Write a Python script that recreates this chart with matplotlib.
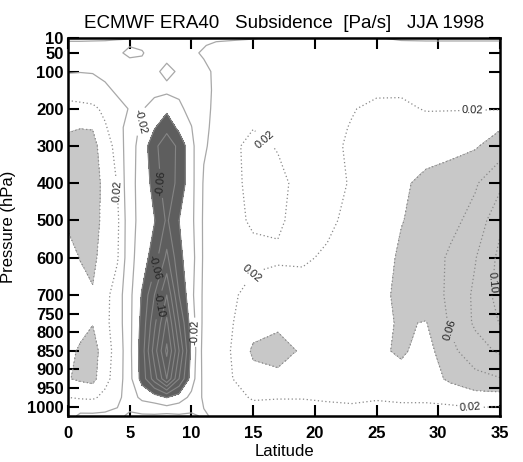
import numpy as np
import matplotlib
matplotlib.use("Agg")
import matplotlib.pyplot as plt

plt.rcParams['font.family'] = ['Liberation Sans', 'DejaVu Sans']

# Grid: latitude (deg N) and pressure levels (hPa)
lats = [0, 1, 2, 3, 4, 5, 6, 7, 8, 9, 10, 11, 12, 13, 15, 17, 19, 21, 23, 25, 27, 29, 31, 33, 35]
plevs = [10, 30, 50, 100, 150, 200, 250, 300, 400, 500, 600, 700, 775, 850, 925, 975, 1025]

# Vertical velocity, one row per pressure level, in units of 0.01 Pa/s
w_cpa = [
    # 10 hPa
    [0.4, 0.4, 0.4, 0.4, 0.4, 0.3, 0.3, 0.2, 0.2, 0.2, 0.1, -0.3, -0.4, -0.3, -0.1, 0.2, 0.3, 0.3, 0.3, 0.1, -0.3, -0.4, -0.4, -0.4, -0.4],
    # 30 hPa
    [-0.5, -0.5, -0.6, -0.7, -1.3, -1.9, -1.8, -1.3, -1.2, -1.3, -0.6, -0.1, 0.4, 0.5, 0.6, 0.6, 0.6, 0.6, 0.6, 0.6, 0.6, 0.6, 0.6, 0.6, 0.6],
    # 50 hPa
    [-0.5, -0.6, -0.8, -1.0, -1.6, -2.5, -2.1, -1.4, -1.5, -1.5, -0.3, 0.2, 0.5, 0.6, 0.7, 0.7, 0.7, 0.7, 0.7, 0.8, 0.8, 0.8, 0.8, 0.8, 0.8],
    # 100 hPa
    [-0.1, -0.05, -0.1, -0.5, -0.7, -0.6, -1.5, -1.7, -2.4, -1.8, -1.3, -0.4, 0.3, 0.6, 0.8, 0.8, 0.9, 0.9, 1.0, 1.1, 1.1, 1.1, 1.1, 1.1, 1.1],
    # 150 hPa
    [1.0, 0.9, 0.8, 0.4, -0.3, -0.8, -1.4, -1.6, -1.6, -1.7, -1.3, -0.5, 0.3, 0.7, 0.9, 1.0, 1.0, 1.1, 1.3, 1.7, 1.8, 1.5, 1.5, 1.5, 1.5],
    # 200 hPa
    [2.8, 2.6, 2.4, 1.6, 0.6, -0.1, -1.9, -2.6, -3.5, -2.3, -1.5, -0.5, 0.4, 0.8, 1.2, 1.2, 1.3, 1.4, 1.9, 2.4, 2.3, 1.9, 1.9, 1.9, 1.9],
    # 250 hPa
    [3.6, 3.9, 3.9, 2.2, 0.9, -1.0, -2.4, -3.8, -5.5, -3.4, -2.05, -0.4, 0.5, 1.3, 1.95, 1.5, 1.4, 1.5, 2.1, 2.6, 2.6, 2.6, 2.8, 3.2, 3.8],
    # 300 hPa
    [5.0, 5.2, 4.6, 3.0, 1.3, -1.3, -2.7, -5.6, -7.0, -5.6, -2.5, -0.2, 0.5, 1.6, 2.4, 1.9, 1.5, 1.5, 2.3, 2.7, 2.8, 3.0, 3.4, 3.8, 5.0],
    # 400 hPa
    [5.5, 5.8, 4.8, 3.5, 1.9, -1.5, -2.6, -4.8, -7.2, -5.4, -2.6, 0.2, 0.7, 1.5, 2.4, 2.4, 1.5, 1.6, 2.1, 2.9, 3.6, 4.6, 5.0, 5.8, 7.5],
    # 500 hPa
    [4.4, 5.0, 4.8, 3.4, 2.4, -1.4, -2.6, -3.9, -6.3, -4.0, -2.5, 0.3, 0.9, 1.5, 2.2, 2.2, 1.5, 1.7, 2.4, 3.2, 3.9, 4.8, 5.5, 6.6, 9.6],
    # 600 hPa
    [3.0, 4.1, 4.5, 3.0, 2.2, -1.4, -3.0, -5.0, -8.5, -4.5, -2.8, 0.3, 1.0, 1.4, 1.6, 1.8, 1.8, 2.2, 2.6, 2.8, 4.4, 5.0, 6.3, 7.9, 10.5],
    # 700 hPa
    [2.6, 3.0, 3.8, 2.6, 1.0, -1.5, -4.2, -8.0, -12.0, -6.0, -2.5, 0.4, 1.0, 1.6, 2.6, 2.8, 2.6, 2.8, 3.0, 3.2, 4.6, 5.2, 6.3, 8.4, 10.8],
    # 775 hPa
    [3.2, 3.5, 3.9, 2.5, 1.0, -1.5, -4.6, -9.5, -14.5, -8.0, -3.0, 0.5, 1.0, 1.7, 3.2, 3.7, 3.0, 3.0, 3.1, 3.5, 4.2, 3.9, 6.3, 8.3, 10.1],
    # 850 hPa
    [3.6, 4.2, 5.0, 2.8, 1.3, -1.5, -5.0, -11.0, -16.5, -10.0, -3.5, 0.8, 1.1, 1.8, 4.3, 4.6, 3.8, 3.2, 3.3, 3.6, 4.3, 3.2, 5.5, 7.2, 8.3],
    # 925 hPa
    [3.9, 4.3, 4.6, 2.6, 1.1, -1.4, -4.8, -9.0, -14.0, -8.0, -3.0, 0.6, 1.0, 1.7, 3.4, 3.6, 3.2, 3.0, 3.1, 3.3, 3.3, 3.0, 4.4, 5.4, 5.9],
    # 975 hPa
    [2.0, 2.2, 2.3, 1.5, 0.5, -1.0, -2.5, -3.0, -4.1, -3.0, -1.5, 0.3, 0.6, 1.2, 2.2, 2.1, 2.1, 2.3, 2.5, 2.2, 2.4, 2.4, 2.6, 3.2, 3.2],
    # 1025 hPa
    [0.8, -0.4, -0.4, -0.4, -0.4, 0.3, 0.3, 0.3, 0.6, 0.3, 0.3, -0.2, 0.3, 0.6, 1.0, 1.0, 1.0, 1.0, 1.0, 1.0, 1.0, 1.0, 1.1, 1.0, 0.8],
]

xtick_vals = [0, 5, 10, 15, 20, 25, 30, 35]
ytick_vals = [10, 50, 100, 200, 300, 400, 500, 600, 700, 750, 800, 850, 900, 950, 1000]

omega = np.array(w_cpa) / 100.0  # Pa/s
X, Y = np.meshgrid(lats, plevs)

fig = plt.figure(figsize=(5.23, 4.62), dpi=100)
ax = fig.add_axes([68 / 523, 1 - 416 / 462, 432 / 523, 378 / 462])

# shading: strong ascent dark, strong subsidence light
ax.contourf(X, Y, omega, levels=[-1.0, -0.04, 0.04, 1.0],
            colors=['#5e5e5e', 'none', '#c8c8c8'])

neg_out = ax.contour(X, Y, omega, levels=[-0.02, 0.0], colors='#a8a8a8',
                     linewidths=0.9, linestyles='solid')
neg_in = ax.contour(X, Y, omega, levels=np.arange(-0.18, -0.039, 0.02),
                    colors='#858585', linewidths=0.8, linestyles='solid')
pos = ax.contour(X, Y, omega, levels=np.arange(0.02, 0.121, 0.02),
                 colors='#888888', linewidths=0.9, linestyles=[(0, (1, 2))])

lab_kw = dict(fmt='%.2f', fontsize=8, inline=True, inline_spacing=2, colors='#222222')
ax.clabel(neg_out, manual=[(6.4, 238), (10.4, 800)], **lab_kw)
ax.clabel(neg_in, manual=[(7.6, 400), (6.9, 625), (7.4, 727)], **lab_kw)
ax.clabel(pos, manual=[(32.8, 205), (4.0, 420), (14.3, 630), (15.8, 290),
                       (31.1, 793), (34.6, 668), (32.6, 990)], **lab_kw)

ax.set_xlim(0, 35)
ax.set_ylim(1025, 10)
ax.set_xticks(xtick_vals)
ax.set_yticks(ytick_vals)
ax.set_xticklabels([str(v) for v in xtick_vals])
ax.set_yticklabels([str(v) for v in ytick_vals])
ax.tick_params(axis='both', direction='in', length=8, width=1.5,
               top=True, right=True, labelsize=12)
ax.tick_params(axis='y', pad=3)
ax.tick_params(axis='x', pad=7)
for lab in ax.get_xticklabels() + ax.get_yticklabels():
    lab.set_fontweight('bold')
for s in ax.spines.values():
    s.set_linewidth(1.8)

ax.set_title('ECMWF ERA40   Subsidence  [Pa/s]   JJA 1998', fontsize=13.5, pad=7)
ax.set_xlabel('Latitude', fontsize=12, labelpad=2)
ax.set_ylabel('Pressure (hPa)', fontsize=12)
ax.yaxis.set_label_coords(-0.121, 0.5)

fig.savefig('out.png', dpi=100)
